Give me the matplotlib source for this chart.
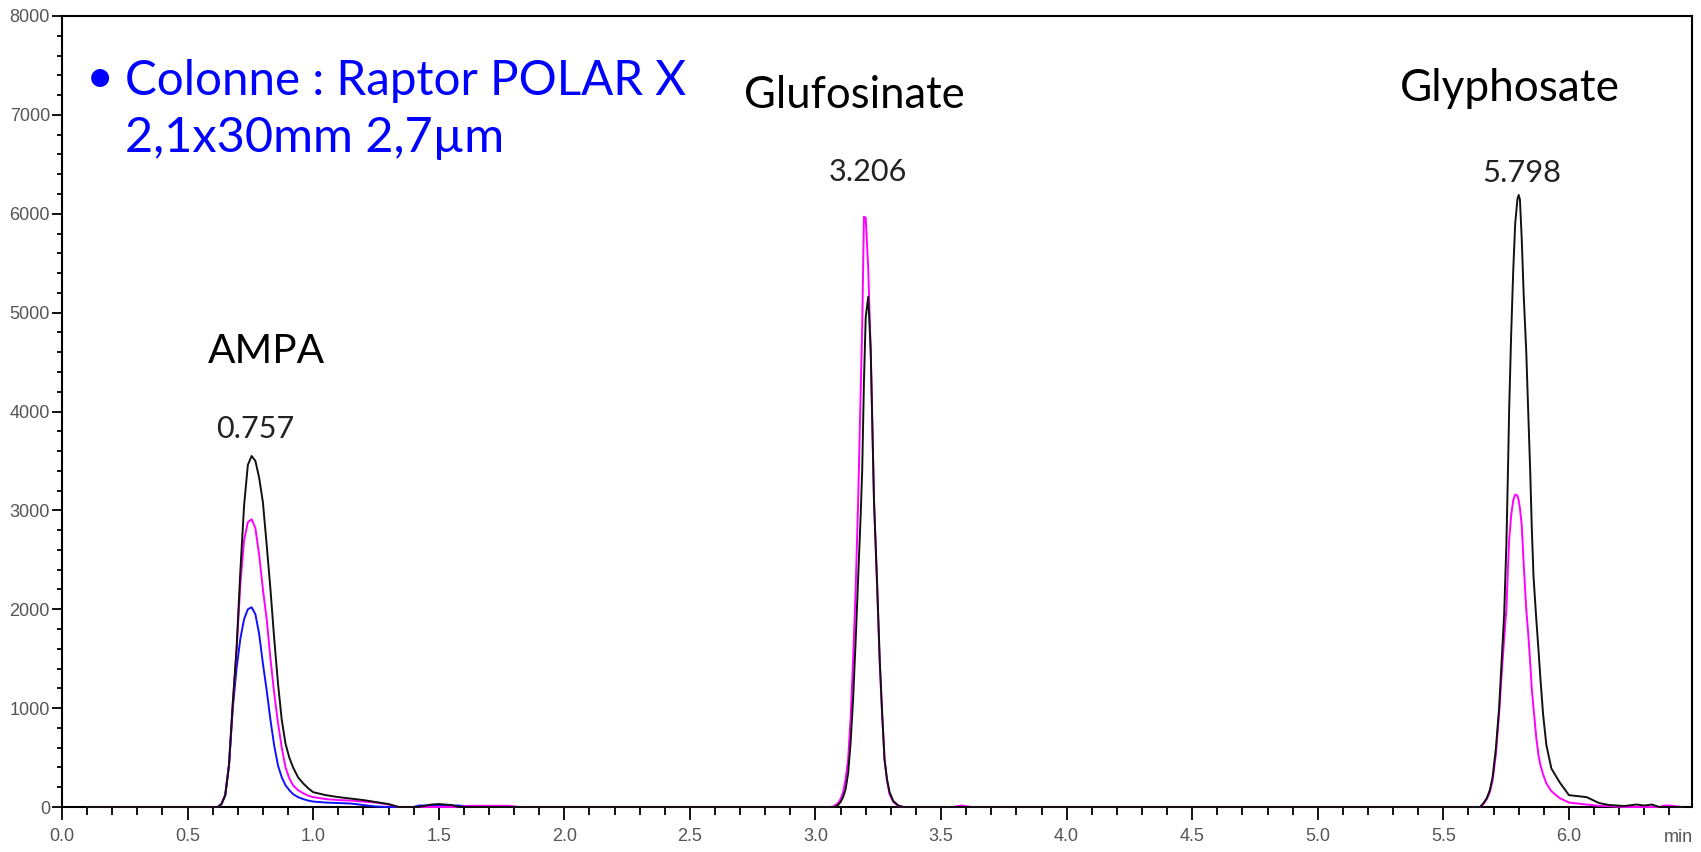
import numpy as np
import matplotlib
matplotlib.use('Agg')
import matplotlib.pyplot as plt
from matplotlib import font_manager
from matplotlib.ticker import MultipleLocator, FormatStrFormatter

# ---------------- data ----------------
ampa_t = [0.10, 0.60, 0.62, 0.635, 0.65, 0.665, 0.68, 0.695, 0.71, 0.725, 0.74, 0.755,
          0.77, 0.785, 0.80, 0.815, 0.83, 0.845, 0.86, 0.875, 0.89, 0.905, 0.92, 0.94,
          0.96, 0.98, 1.00, 1.05, 1.10, 1.15, 1.20, 1.25, 1.30, 1.34]
ampa_black = [0, 0, 0, 30, 120, 430, 1050, 1600, 2380, 3050, 3460, 3550,
              3500, 3330, 3080, 2650, 2200, 1700, 1250, 880, 640, 500, 400, 300,
              240, 190, 150, 120, 100, 85, 70, 50, 30, 0]
ampa_magenta = [0, 0, 0, 30, 120, 430, 1050, 1580, 2250, 2700, 2880, 2910,
                2820, 2550, 2200, 1900, 1500, 1150, 850, 600, 400, 290, 220, 170,
                140, 115, 100, 80, 70, 65, 55, 45, 25, 0]
ampa_blue = [0, 0, 0, 30, 120, 420, 1000, 1400, 1700, 1900, 2000, 2020,
             1950, 1750, 1450, 1180, 880, 620, 420, 300, 220, 170, 130, 100,
             80, 65, 55, 45, 40, 35, 20, 5, 0, 0]

noise_t = [1.34, 1.40, 1.42, 1.47, 1.50, 1.55, 1.58, 1.62, 1.70, 1.78, 1.82, 3.06]
noise_black = [0, 0, 0, 25, 30, 20, 0, 0, 0, 0, 0, 0]
noise_magenta = [0, 0, 0, 0, 0, 0, 0, 12, 12, 12, 0, 0]
blue_noise_t = [1.34, 1.40, 1.42, 1.47, 1.50, 1.55, 1.58, 1.62]
blue_noise = [0, 0, 15, 15, 15, 15, 15, 5]

gluf_t = [3.06, 3.075, 3.09, 3.10, 3.11, 3.12, 3.13, 3.14, 3.15, 3.16, 3.17, 3.18,
          3.186, 3.193, 3.20, 3.21, 3.22, 3.233, 3.245, 3.256, 3.265, 3.275, 3.285,
          3.295, 3.31, 3.33, 3.35]
gluf_black = [0, 0, 20, 50, 100, 180, 340, 650, 1100, 1680, 2320, 2950,
              3400, 4300, 4950, 5160, 4620, 3100, 2300, 1480, 980, 480, 280,
              150, 60, 15, 0]
gluf_magenta = [0, 10, 40, 80, 150, 280, 480, 900, 1500, 2200, 3100, 4200,
                4850, 5970, 5960, 5450, 4600, 3100, 2250, 1450, 950, 480, 260,
                130, 50, 10, 0]

mid_t = [3.35, 3.55, 3.58, 3.62, 5.60]
mid_black = [0, 0, 0, 0, 0]
mid_magenta = [0, 0, 15, 0, 0]

glyph_t = [5.60, 5.646, 5.66, 5.673, 5.685, 5.696, 5.709, 5.722, 5.731, 5.742, 5.751,
           5.757, 5.762, 5.770, 5.778, 5.786, 5.795, 5.800, 5.805, 5.812, 5.820, 5.830,
           5.838, 5.846, 5.852, 5.859, 5.870, 5.879, 5.887, 5.897, 5.910, 5.930, 5.963,
           6.00, 6.07, 6.12, 6.16, 6.22, 6.27, 6.30, 6.33, 6.36]
glyph_black = [0, 0, 40, 90, 170, 300, 590, 1000, 1430, 1940, 2660,
               3370, 4020, 4780, 5410, 5900, 6150, 6190, 6140, 5750, 5170, 4610,
               3990, 3380, 2830, 2330, 1900, 1580, 1280, 940, 630, 390, 250,
               120, 100, 40, 20, 10, 25, 15, 25, 0]
glyph_magenta = [0, 0, 30, 80, 150, 270, 530, 950, 1300, 1700, 2000,
                 2400, 2700, 2950, 3100, 3160, 3150, 3100, 3020, 2850, 2450, 2000,
                 1750, 1450, 1200, 1000, 700, 520, 420, 330, 240, 160, 90,
                 45, 25, 12, 8, 0, 0, 0, 0, 0]

end_t = [6.36, 6.38, 6.40, 6.45]
end_black = [0, 0, 0, 0]
end_magenta = [0, 15, 15, 0]

x_tick_step = 0.5
y_tick_step = 1000

peak_labels = ["0.757", "3.206", "5.798"]
compound_names = ["AMPA", "Glufosinate", "Glyphosate"]
column_lines = ["Colonne : Raptor POLAR X", "2,1x30mm 2,7µm"]

# ---------------- figure ----------------
W, H = 1701, 852
fig = plt.figure(figsize=(W / 100, H / 100), dpi=100)
fig.patch.set_facecolor('white')
ax = fig.add_axes([62 / W, (H - 807) / H, (1692 - 62) / W, (807 - 16) / H])

names = {f.name for f in font_manager.fontManager.ttflist}
if 'Liberation Sans Narrow' in names:
    tickfont, ticksize = 'Liberation Sans Narrow', 15.5
elif 'Liberation Sans' in names:
    tickfont, ticksize = 'Liberation Sans', 13
else:
    tickfont, ticksize = 'DejaVu Sans', 11.5
textfont = 'Lato' if 'Lato' in names else 'DejaVu Sans'


def build(parts):
    t = np.concatenate([np.asarray(p[0], float) for p in parts])
    v = np.concatenate([np.asarray(p[1], float) for p in parts])
    return t, v


blue = build([(ampa_t, ampa_blue), (blue_noise_t, blue_noise)])
magenta = build([(ampa_t, ampa_magenta), (noise_t, noise_magenta), (gluf_t, gluf_magenta),
                 (mid_t, mid_magenta), (glyph_t, glyph_magenta), (end_t, end_magenta)])
black = build([(ampa_t, ampa_black), (noise_t, noise_black), (gluf_t, gluf_black),
               (mid_t, mid_black), (glyph_t, glyph_black), (end_t, end_black)])

ax.plot(*blue, color='#1010ff', lw=1.4, clip_on=False, zorder=3)
ax.plot(*magenta, color='#ff00ff', lw=1.4, clip_on=False, zorder=4)
ax.plot(*black, color='#111111', lw=1.4, clip_on=False, zorder=5)

ax.set_xlim(0, 6.49)
ax.set_ylim(0, 8000)
ax.xaxis.set_major_locator(MultipleLocator(x_tick_step))
ax.xaxis.set_minor_locator(MultipleLocator(0.1))
ax.yaxis.set_major_locator(MultipleLocator(y_tick_step))
ax.yaxis.set_minor_locator(MultipleLocator(200))
ax.xaxis.set_major_formatter(FormatStrFormatter('%.1f'))
ax.yaxis.set_major_formatter(FormatStrFormatter('%d'))

for s in ax.spines.values():
    s.set_linewidth(1.5)
    s.set_color('black')

ax.tick_params(axis='x', which='major', length=9.4, width=1.3, pad=6,
               labelsize=ticksize, labelcolor='#555555', labelfontfamily=tickfont)
ax.tick_params(axis='x', which='minor', length=5.8, width=1.3)
ax.tick_params(axis='y', which='major', length=7.2, width=1.3, pad=1.5,
               labelsize=ticksize, labelcolor='#555555', labelfontfamily=tickfont)
ax.tick_params(axis='y', which='minor', length=3.6, width=1.3)

fig.text(1678 / W, (H - 838) / H, "min", ha='center', va='center', fontsize=ticksize,
         color='#555555', family=tickfont)

renderer = fig.canvas.get_renderer()


def place(s, left, baseline, width, color, family=textfont):
    t = fig.text(left / W, (H - baseline) / H, s, ha='left', va='baseline',
                 fontsize=20, color=color, family=family)
    bb = t.get_window_extent(renderer)
    t.set_fontsize(20 * width / bb.width)
    return t


place(column_lines[0], 125, 95, 561, '#0000ff')
place(column_lines[1], 125, 152, 379, '#0000ff')
bfs = fig.texts[-1].get_fontsize()
fig.text(100 / W, (H - 78) / H, "•", ha='center', va='center', fontsize=bfs,
         color='#0000ff', family=textfont)

place(compound_names[0], 208, 363, 117, 'black')
place(compound_names[1], 744, 108, 221, 'black')
place(compound_names[2], 1400, 101, 220, 'black')

place(peak_labels[0], 216, 438, 78, '#222222')
place(peak_labels[1], 829, 181, 78, '#222222')
place(peak_labels[2], 1482, 182, 79, '#222222')

fig.savefig('out.png', dpi=100)
